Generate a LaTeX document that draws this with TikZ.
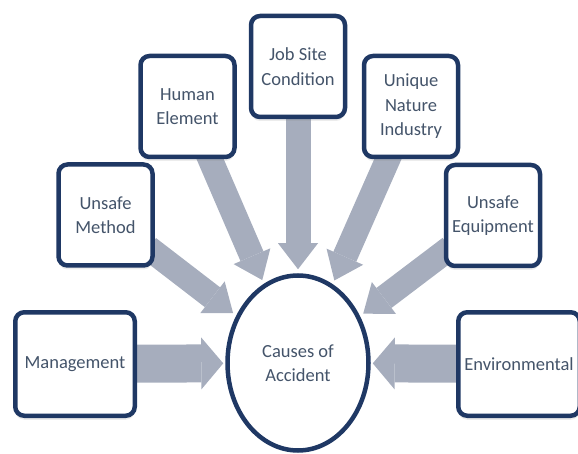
\documentclass[tikz,border=0pt]{standalone}
\usepackage{fontspec}
\setmainfont{Carlito}
\usepackage{tikz}
\usetikzlibrary{arrows.meta,shapes.geometric,shadows,backgrounds}
\definecolor{frame}{HTML}{1F3864}
\definecolor{label}{HTML}{44546A}
\definecolor{flow}{HTML}{A6ADBD}
\tikzset{
  cause/.style={draw=frame, line width=4.5pt, fill=white, rounded corners=9pt,
    minimum width=94pt, minimum height=101pt, inner sep=2pt, align=center,
    text=label, font=\fontsize{18.5}{24.5}\selectfont,
    drop shadow={shadow xshift=0pt, shadow yshift=-4pt, opacity=0.15}},
  hub/.style={ellipse, draw=frame, line width=4.5pt, fill=white,
    minimum width=141pt, minimum height=175pt, inner sep=0pt, align=center,
    text=label, font=\fontsize{18.5}{24.5}\selectfont},
  feed/.style={draw=flow, line width=25pt, shorten >=4pt, shorten <=-8pt,
    -{Triangle[width=40pt 0 0, length=26pt 0 0, line width=0pt 0 0]}},
  feedw/.style={feed, line width=38pt, shorten >=2pt,
    -{Triangle[width=52pt 0 0, length=22pt 0 0, line width=0pt 0 0]}}
}

\begin{document}
\begin{tikzpicture}[x=1pt, y=-1pt]
  \useasboundingbox (0,0) rectangle (578,454);
  \clip (0,0) rectangle (578,454);

  \node[hub] (acc) at (298,363) {Causes of\\Accident};

  \node[cause] (job) at (298,66.5) {Job Site\\Condition};
  \node[cause] (human) at (187.5,106.5) {Human\\Element};
  \node[cause] (unique) at (411,106.5) {Unique\\Nature\\Industry};
  \node[cause] (method) at (105.5,215) {Unsafe\\Method};
  \node[cause] (equip) at (493,215.5) {Unsafe\\Equipment};
  \node[cause, minimum width=119.5pt, minimum height=103.5pt] (mgmt) at (75,364) {Management};
  \node[cause, minimum width=121.5pt, minimum height=103.5pt] (env) at (519,364) {Environmental};

  % block arrows sit under the boxes
  \begin{scope}[on background layer]
    \draw[feed] (job) -- (acc);
    \draw[feed] (human) -- (acc);
    \draw[feed] (unique) -- (acc);
    \draw[feed] (method) -- (acc);
    \draw[feed] (equip) -- (acc);
    \draw[feedw] (mgmt) -- (acc);
    \draw[feedw] (env) -- (acc);
  \end{scope}
\end{tikzpicture}
\end{document}
